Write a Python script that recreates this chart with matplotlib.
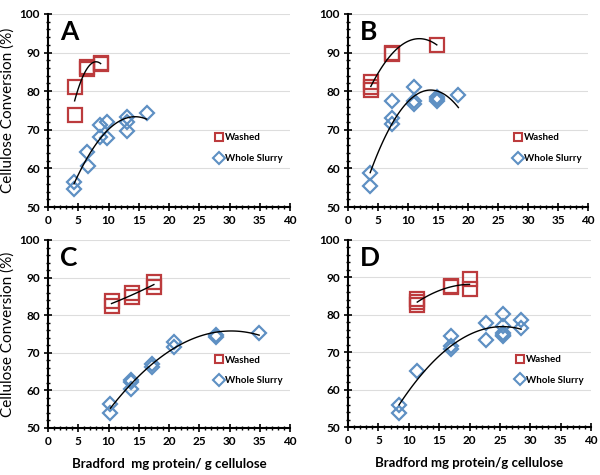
import numpy as np
import matplotlib
matplotlib.use("Agg")
import matplotlib.pyplot as plt
from matplotlib.ticker import MultipleLocator

plt.rcParams['font.family'] = ['Lato', 'DejaVu Sans']

# ---------------- data ----------------
panel_labels = ["A", "B", "C", "D"]

washed_x_A = [4.4, 4.4, 6.5, 6.5, 8.7, 8.7]
washed_y_A = [81.2, 73.8, 85.7, 86.2, 87.0, 87.3]
slurry_x_A = [4.3, 4.3, 6.5, 6.6, 8.6, 8.6, 9.8, 9.8, 13.0, 13.0, 13.0, 16.3]
slurry_y_A = [56.6, 54.6, 64.3, 60.6, 71.2, 68.2, 71.9, 67.8, 73.4, 71.9, 69.8, 74.4]

washed_x_B = [3.8, 3.8, 3.8, 7.4, 7.4, 14.8]
washed_y_B = [82.3, 81.0, 80.4, 89.6, 90.0, 92.0]
slurry_x_B = [3.7, 3.7, 7.3, 7.3, 7.3, 11.0, 11.0, 11.0, 14.8, 14.8, 14.8, 18.4]
slurry_y_B = [58.7, 55.4, 77.5, 73.1, 71.4, 81.0, 77.4, 76.6, 78.5, 78.0, 77.5, 79.1]

washed_x_C = [10.5, 10.5, 13.9, 13.9, 17.5, 17.5]
washed_y_C = [83.7, 82.5, 86.0, 84.8, 88.8, 87.5]
slurry_x_C = [10.3, 10.3, 13.8, 13.8, 13.8, 17.2, 17.2, 20.8, 20.8, 27.8, 27.8, 34.9]
slurry_y_C = [56.4, 53.9, 62.8, 62.3, 60.3, 67.0, 66.2, 73.0, 71.6, 74.8, 74.3, 75.3]

washed_x_D = [11.4, 11.4, 11.4, 17.0, 17.0, 20.0, 20.0]
washed_y_D = [84.2, 83.3, 82.7, 87.3, 87.7, 89.5, 86.8]
slurry_x_D = [8.4, 8.4, 11.3, 17.0, 17.0, 17.0, 22.7, 22.7, 25.5, 25.5, 25.5, 25.5, 25.5, 28.5, 28.5]
slurry_y_D = [55.9, 53.7, 65.0, 74.3, 71.7, 70.8, 77.7, 73.3, 80.2, 77.0, 75.1, 74.6, 74.2, 78.6, 76.4]

washed_x = [washed_x_A, washed_x_B, washed_x_C, washed_x_D]
washed_y = [washed_y_A, washed_y_B, washed_y_C, washed_y_D]
slurry_x = [slurry_x_A, slurry_x_B, slurry_x_C, slurry_x_D]
slurry_y = [slurry_y_A, slurry_y_B, slurry_y_C, slurry_y_D]

xlabels = ["", "", "Bradford  mg protein/ g cellulose", "Bradford mg protein/g cellulose"]
ylabel = "Cellulose Conversion (%)"
legend_labels = ["Washed", "Whole Slurry"]

# ---------------- style ----------------
RED = "#BC3B3D"
BLUE = "#5E90C3"

fig = plt.figure(figsize=(6.0, 4.75), dpi=100)
W, H = 600, 475
boxes = [(48, 14, 290, 207), (348, 14, 588, 207),
         (48, 240, 290, 428), (348, 240, 591, 427)]

for i, (l, t, r, b) in enumerate(boxes):
    ax = fig.add_axes([l / W, 1 - b / H, (r - l) / W, (b - t) / H])
    ax.set_xlim(0, 40)
    ax.set_ylim(50, 100)
    ax.yaxis.grid(True, color="#DDDDDD", lw=0.8)
    ax.set_axisbelow(True)
    for s in ["top", "right"]:
        ax.spines[s].set_visible(False)
    for s in ["left", "bottom"]:
        ax.spines[s].set_linewidth(1.5)
    ax.xaxis.set_major_locator(MultipleLocator(5))
    ax.xaxis.set_minor_locator(MultipleLocator(1))
    ax.yaxis.set_major_locator(MultipleLocator(10))
    ax.yaxis.set_minor_locator(MultipleLocator(2))
    ax.tick_params(which="major", direction="inout", length=6, width=1.2,
                   labelsize=8.5, pad=3)
    ax.tick_params(which="minor", direction="inout", length=3.5, width=1.0)
    for lab in ax.get_xticklabels() + ax.get_yticklabels():
        lab.set_fontweight("bold")

    wx, wy = np.array(washed_x[i]), np.array(washed_y[i])
    sx, sy = np.array(slurry_x[i]), np.array(slurry_y[i])

    ax.plot(wx, wy, ls="none", marker="s", ms=9.5, mfc="none", mec=RED, mew=1.6,
            label=legend_labels[0])
    ax.plot(sx, sy, ls="none", marker="D", ms=7, mfc="none", mec=BLUE, mew=1.6,
            label=legend_labels[1])

    for xx, yy in [(wx, wy), (sx, sy)]:
        c = np.polyfit(xx, yy, 2)
        xs = np.linspace(xx.min(), xx.max(), 100)
        ax.plot(xs, np.polyval(c, xs), color="black", lw=1.0)

    ax.text(0.05, 0.97, panel_labels[i], transform=ax.transAxes, fontsize=19,
            fontweight="bold", va="top", ha="left")

    leg = ax.legend(loc="center left", bbox_to_anchor=(0.68, 0.305), frameon=False,
                    fontsize=7, handlelength=0.6, handletextpad=0.3,
                    labelspacing=1.2, borderaxespad=0)
    for txt in leg.get_texts():
        txt.set_fontweight("bold")
    for h in leg.legend_handles:
        h.set_markersize(6)
        h.set_markeredgewidth(1.5)

    if i in (0, 2):
        ax.set_ylabel(ylabel, fontsize=11, labelpad=3)
    if xlabels[i]:
        ax.set_xlabel(xlabels[i], fontsize=9.5, fontweight="bold", labelpad=8)

fig.savefig("out.png", dpi=100)
